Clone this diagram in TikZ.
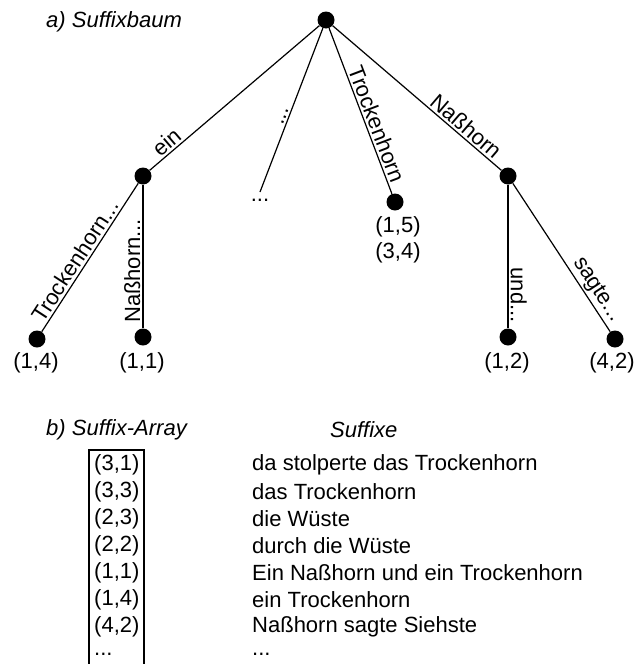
\documentclass[tikz,border=0pt]{standalone}
\usepackage{fontspec}
\setmainfont{Liberation Sans}
\newcommand\mydots{...}
\begin{document}
\begin{tikzpicture}[x=1pt,y=-1pt]
\tikzset{
  dot/.style={circle, fill=black, inner sep=0pt, minimum size=17pt},
  txt/.style={font=\fontsize{22}{26}\selectfont, inner sep=0pt},
  ttl/.style={font=\fontsize{22}{26}\selectfont\itshape, inner sep=0pt, anchor=west},
  edge/.style={line width=1.2pt},
  elbl/.style={sloped, above, font=\fontsize{22}{26}\selectfont, inner sep=2pt},
}
\useasboundingbox (0,0) rectangle (635,664);
% tree nodes
\node[dot] (r) at (326,20) {};
\node[dot] (e) at (143,176) {};
\node[dot] (n) at (508,176) {};
\node[dot] (t) at (395,202) {};
\coordinate (d) at (260,192);
\node[dot] (l14) at (37,339) {};
\node[dot] (l11) at (143,337) {};
\node[dot] (l12) at (508,337) {};
\node[dot] (l42) at (615,339) {};
% edges
\draw[edge] (e) -- node[elbl,pos=0.14]{ein} (r);
\draw[edge] (d) -- node[elbl,pos=0.45]{\mydots} (r);
\draw[edge] (r) -- node[elbl,pos=0.6]{Trockenhorn} (t);
\draw[edge] (r) -- node[elbl,pos=0.75]{Naßhorn} (n);
\draw[edge] (l14) -- node[elbl,pos=0.44]{Trockenhorn\mydots} (e);
\draw[edge] (l11) -- node[elbl,pos=0.4]{Naßhorn\mydots} (e);
\draw[edge] (n) -- node[elbl,pos=0.77]{und\mydots} (l12);
\draw[edge] (n) -- node[elbl,pos=0.76]{sagte\mydots} (l42);
% labels
\node[txt] (dd) at (260,200) {\mydots};
\node[txt] (p15) at (398,227) {(1,5)};
\node[txt] (p34) at (398,253) {(3,4)};
\node[txt] (p14) at (36,363) {(1,4)};
\node[txt] (p11) at (142,363) {(1,1)};
\node[txt] (p12) at (507,363) {(1,2)};
\node[txt] (p42) at (612,363) {(4,2)};
% titles
\node[ttl] (ta) at (46,22) {a) Suffixbaum};
\node[ttl] (tb) at (46,430) {b) Suffix-Array};
\node[ttl] (ts) at (330,430) {Suffixe};
% suffix array
\draw[edge] (89,664) |- (144,450) -- (144,664);
\foreach \a/\s [count=\i from 0] in {
  (3{,}1)/da stolperte das Trockenhorn,
  (3{,}3)/das Trockenhorn,
  (2{,}3)/die Wüste,
  (2{,}2)/durch die Wüste,
  (1{,}1)/Ein Naßhorn und ein Trockenhorn,
  (1{,}4)/ein Trockenhorn,
  (4{,}2)/Naßhorn sagte Siehste,
  \mydots/\mydots}{
  \node[txt, anchor=west] (arr\i) at (94,465+27*\i) {\a};
  \node[txt, anchor=west] (suf\i) at (252,465+27*\i) {\s};
}
\end{tikzpicture}
\end{document}
